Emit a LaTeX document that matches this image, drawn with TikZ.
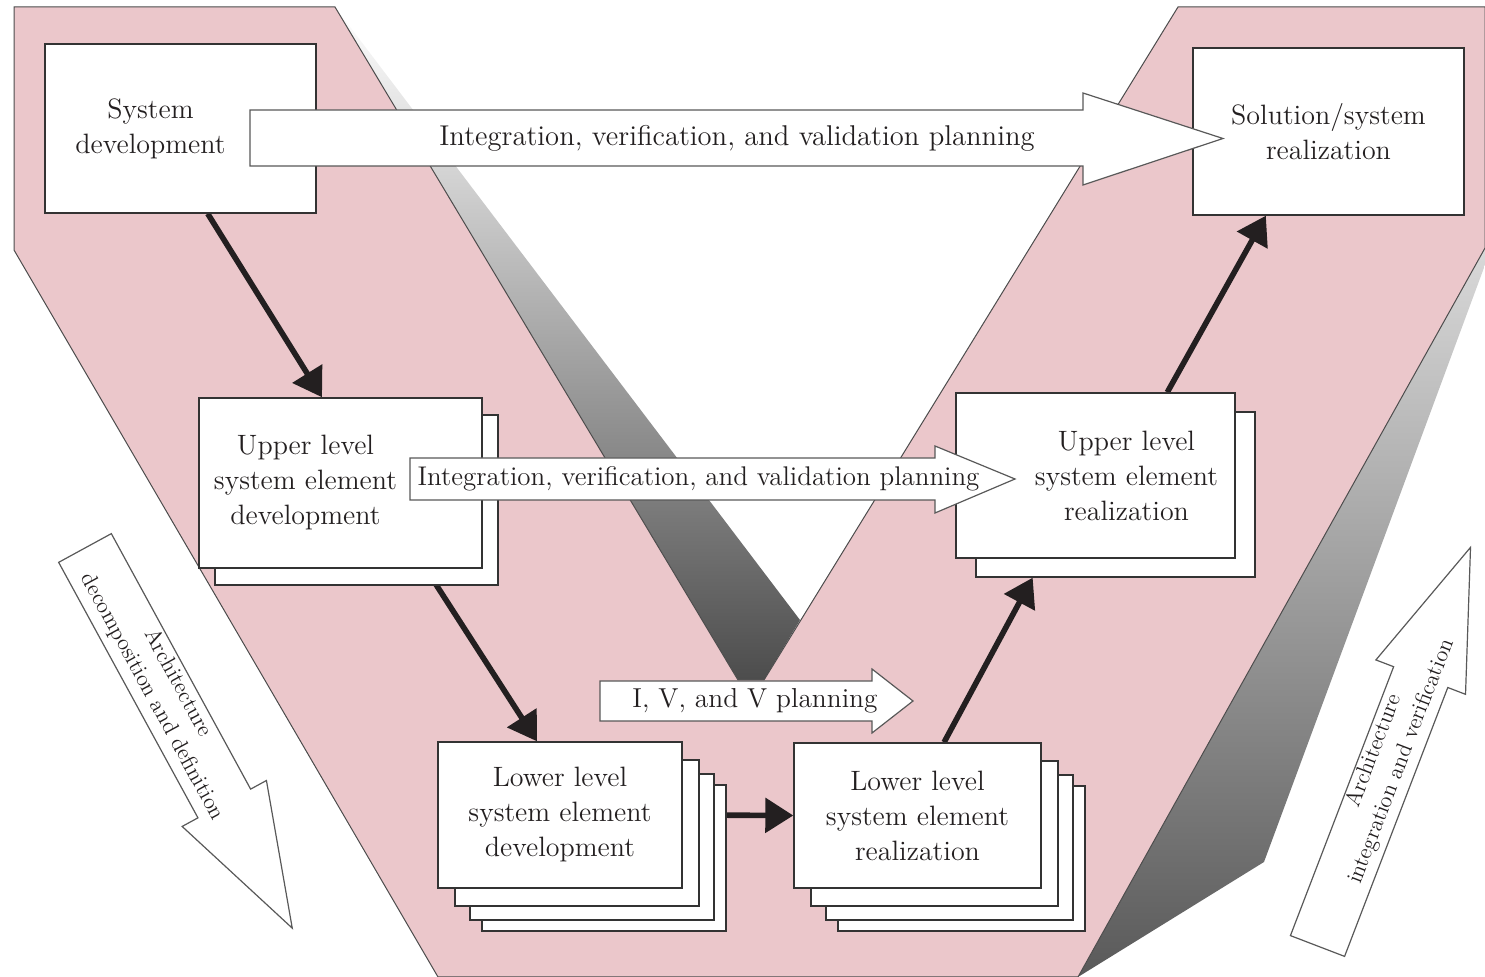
\documentclass[tikz,border=0pt]{standalone}
\usetikzlibrary{arrows.meta,calc,shadows,backgrounds}
\definecolor{vpink}{RGB}{235,199,203}
\definecolor{ink}{RGB}{35,31,32}
\tikzset{
  box/.style={draw=black!80, fill=white, line width=0.7pt, inner sep=0pt, align=center, text=ink,
    font=\fontsize{14}{17.5}\selectfont},
  boxtext/.style={text=ink, align=center, inner sep=0pt, font=\fontsize{14}{17.5}\selectfont},
  flow/.style={draw=ink, line width=2.8pt, -{Triangle[length=14pt,width=17pt]}},
  blockarrow/.style={draw=black!65, fill=white, line width=0.6pt},
  planning/.style={text=ink, inner sep=0pt},
  archtext/.style={text=ink, align=center, inner sep=0pt, font=\fontsize{11.2}{14.5}\selectfont},
}
\begin{document}
\begin{tikzpicture}[x=0.5pt,y=-0.5pt]
\useasboundingbox (0,0) rectangle (1485,977);

\begin{scope}[on background layer]
  % sides of the V
  \shade[top color=white, bottom color=black!70] (335,7) -- (738,680) -- (764,680) -- (800,620) -- cycle;
  \shade[top color=black!15, bottom color=black!65] (1485,248) -- (1485,265) -- (1264,862) -- (1078,977) -- cycle;
  % the V
  \filldraw[fill=vpink, draw=black!70, line width=0.5pt] (14,7) -- (335,7) -- (738,680) -- (764,680) -- (1178,7)
    -- (1485,7) -- (1485,248) -- (1078,977) -- (438,977) -- (14,250) -- cycle;
\end{scope}

% boxes
\node[box, minimum width=135.5pt, minimum height=84.5pt,
  label={[boxtext, xshift=-15pt]center:System\\development}] (sysdev) at (180.5,128.5) {};
\node[box, minimum width=135.5pt, minimum height=83.5pt] (solution) at (1328.5,131.5) {Solution/system\\realization};
\node[box, minimum width=141.5pt, minimum height=85pt,
  copy shadow={shadow xshift=8pt, shadow yshift=-8.5pt, draw=black!80, fill=white, line width=0.7pt},
  label={[boxtext, xshift=-17.5pt]center:Upper level\\system element\\development}] (upperdev) at (340.5,483) {};
\node[box, minimum width=139.5pt, minimum height=82.5pt,
  copy shadow={shadow xshift=10pt, shadow yshift=-9.5pt, draw=black!80, fill=white, line width=0.7pt},
  label={[boxtext, xshift=15.5pt]center:Upper level\\system element\\realization}] (upreal) at (1095.5,475.5) {};
\node[box, minimum width=122pt, minimum height=73pt,
  copy shadow={shadow xshift=22pt, shadow yshift=-21.5pt, draw=black!80, fill=white, line width=0.7pt},
  copy shadow={shadow xshift=16pt, shadow yshift=-16pt, draw=black!80, fill=white, line width=0.7pt},
  copy shadow={shadow xshift=8.5pt, shadow yshift=-9pt, draw=black!80, fill=white, line width=0.7pt}]
  (lowdev) at (560,815) {Lower level\\system element\\development};
\node[box, minimum width=123.5pt, minimum height=72.5pt,
  copy shadow={shadow xshift=22pt, shadow yshift=-21.5pt, draw=black!80, fill=white, line width=0.7pt},
  copy shadow={shadow xshift=16pt, shadow yshift=-16pt, draw=black!80, fill=white, line width=0.7pt},
  copy shadow={shadow xshift=8.5pt, shadow yshift=-9pt, draw=black!80, fill=white, line width=0.7pt}]
  (lowreal) at (917.5,815.5) {Lower level\\system element\\realization};

% flow between the boxes
\begin{scope}[on background layer]
  \draw[flow] ($(sysdev.south west)!0.6!(sysdev.south east)$) -- ($(upperdev.north west)!0.435!(upperdev.north east)$);
  \draw[flow] ($(upperdev.south west)!0.8!(upperdev.south east)$) -- ($(lowdev.north west)!0.406!(lowdev.north east)$);
  \draw[flow] (lowdev.east) -- (lowreal.west);
  \draw[flow] ($(lowreal.north west)!0.607!(lowreal.north east)$) -- ($(upreal.south west)!0.276!(upreal.south east)+(0,19)$);
  \draw[flow] ($(upreal.north west)!0.756!(upreal.north east)$) -- ($(solution.south west)!0.27!(solution.south east)$);
\end{scope}

% planning arrows
\draw[blockarrow] (250,110) -- (1083,110) -- (1083,93) -- (1223,138.5) -- (1083,185) -- (1083,166) -- (250,166) -- cycle;
\node[planning, font=\fontsize{14.3}{17}\selectfont] (plantop) at (737,138) {Integration, verification, and validation planning};
\draw[blockarrow] (410,458) -- (935,458) -- (935,446) -- (1015,479) -- (935,513) -- (935,500) -- (410,500) -- cycle;
\node[planning, font=\fontsize{13.5}{16}\selectfont] (planmid) at (698.5,479) {Integration, verification, and validation planning};
\draw[blockarrow] (600,681) -- (872,681) -- (872,669) -- (913,701) -- (872,733) -- (872,721) -- (600,721) -- cycle;
\node[planning, font=\fontsize{13.7}{16}\selectfont] (planlow) at (755,701) {I, V, and V planning};

% direction arrows
\begin{scope}[shift={(85,548)}, rotate=-61.4]
  \draw[blockarrow] (0,-30) -- (291,-30) -- (291,-48) -- (433,0) -- (291,48) -- (291,30) -- (0,30) -- cycle;
\end{scope}
\node[archtext, rotate=-61.4] (decomp) at (165,690) {Architecture\\decomposition and definition};
\begin{scope}[shift={(1317.5,946)}, rotate=69]
  \draw[blockarrow] (0,-29) -- (288,-29) -- (288,-48) -- (427,0) -- (288,48) -- (288,29) -- (0,29) -- cycle;
\end{scope}
\node[archtext, rotate=69] (integ) at (1388,756) {Architecture\\integration and verification};
\end{tikzpicture}
\end{document}
